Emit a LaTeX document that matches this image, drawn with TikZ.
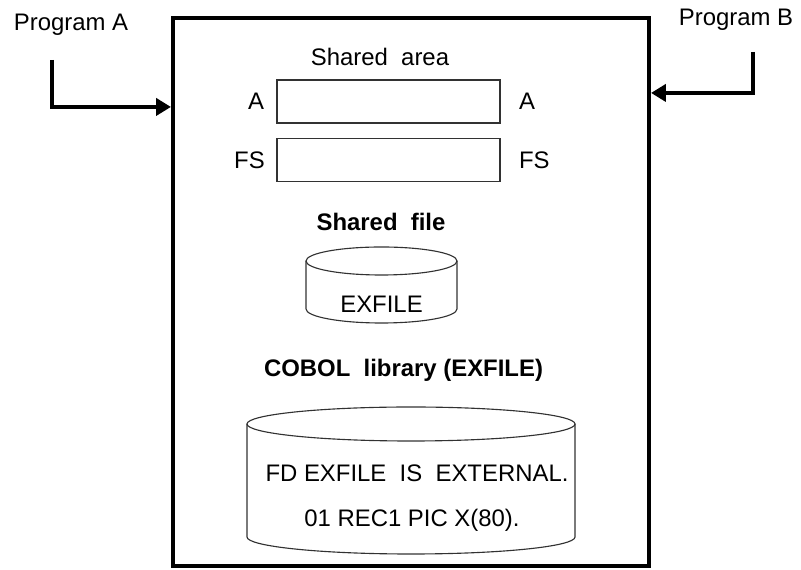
\documentclass[tikz,border=0pt]{standalone}
\usepackage{fontspec}
\setmainfont{Liberation Sans}
\usetikzlibrary{arrows.meta,positioning}
\definecolor{myblack}{RGB}{0,0,0}
\definecolor{mygray}{RGB}{50,50,50}

\begin{document}
\begin{tikzpicture}[x=0.025cm, y=0.025cm,
    font=\fontsize{17}{20}\selectfont,
    lbl/.style={inner sep=0pt, text=myblack},
    slot/.style={draw=mygray, line width=1pt, minimum width=5.575cm,
                 minimum height=1.075cm, inner sep=0pt},
    feed/.style={draw=myblack, line width=2.8pt,
                 -{Triangle[length=10.5pt,width=12pt]}},
    drum/.style={draw=mygray, line width=0.8pt}]
  \useasboundingbox (0,0) rectangle (801,570);
  % Shared memory
  \node[draw=myblack, line width=2.8pt, minimum width=11.9cm,
        minimum height=13.7cm, inner sep=0pt] (mem) at (411,278) {};
  % Programs
  \node[lbl] (progA) at (71,545) {Program A};
  \node[lbl] (progB) at (736,550) {Program B};
  \coordinate (aTop) at (52,510);
  \coordinate (bTop) at (753,518);
  \draw[feed] (aTop) |- ([yshift=4.625cm]mem.west);
  \draw[feed] (bTop) |- ([yshift=4.975cm]mem.east);
  % Shared area
  \node[lbl] (areaTitle) at (380,513) {Shared\ \ area};
  \node[slot] (slotA) at (388.5,468.5) {};
  \node[slot] (slotFS) at (388.5,410) {};
  \node[lbl, left=0.3cm of slotA] (aLeft) {A};
  \node[lbl, right=0.45cm of slotA] (aRight) {A};
  \node[lbl, left=0.28cm of slotFS] (fsLeft) {FS};
  \node[lbl, right=0.45cm of slotFS] (fsRight) {FS};
  % Shared file
  \node[lbl, font=\fontsize{17}{20}\selectfont\bfseries] (fileTitle)
    at (381,348) {Shared\ \ file};
  \draw[drum] (381.5,309) ellipse[x radius=75.5, y radius=14];
  \draw[drum] (306,309) -- (306,261)
    arc[start angle=180, end angle=360, x radius=75.5, y radius=14] -- (457,309);
  \node[lbl] (fileName) at (381.5,266) {EXFILE};
  % COBOL library
  \node[lbl, font=\fontsize{17}{20}\selectfont\bfseries] (libTitle)
    at (403.5,200) {COBOL\ \ library (EXFILE)};
  \draw[drum] (411,146) ellipse[x radius=164, y radius=17];
  \draw[drum] (247,146) -- (247,33)
    arc[start angle=180, end angle=360, x radius=164, y radius=17] -- (575,146);
  \node[lbl] (fdLine) at (417,97) {FD EXFILE\ \ IS\ \ EXTERNAL.};
  \node[lbl] (recLine) at (412,50) {01 REC1 PIC X(80).};
\end{tikzpicture}
\end{document}
